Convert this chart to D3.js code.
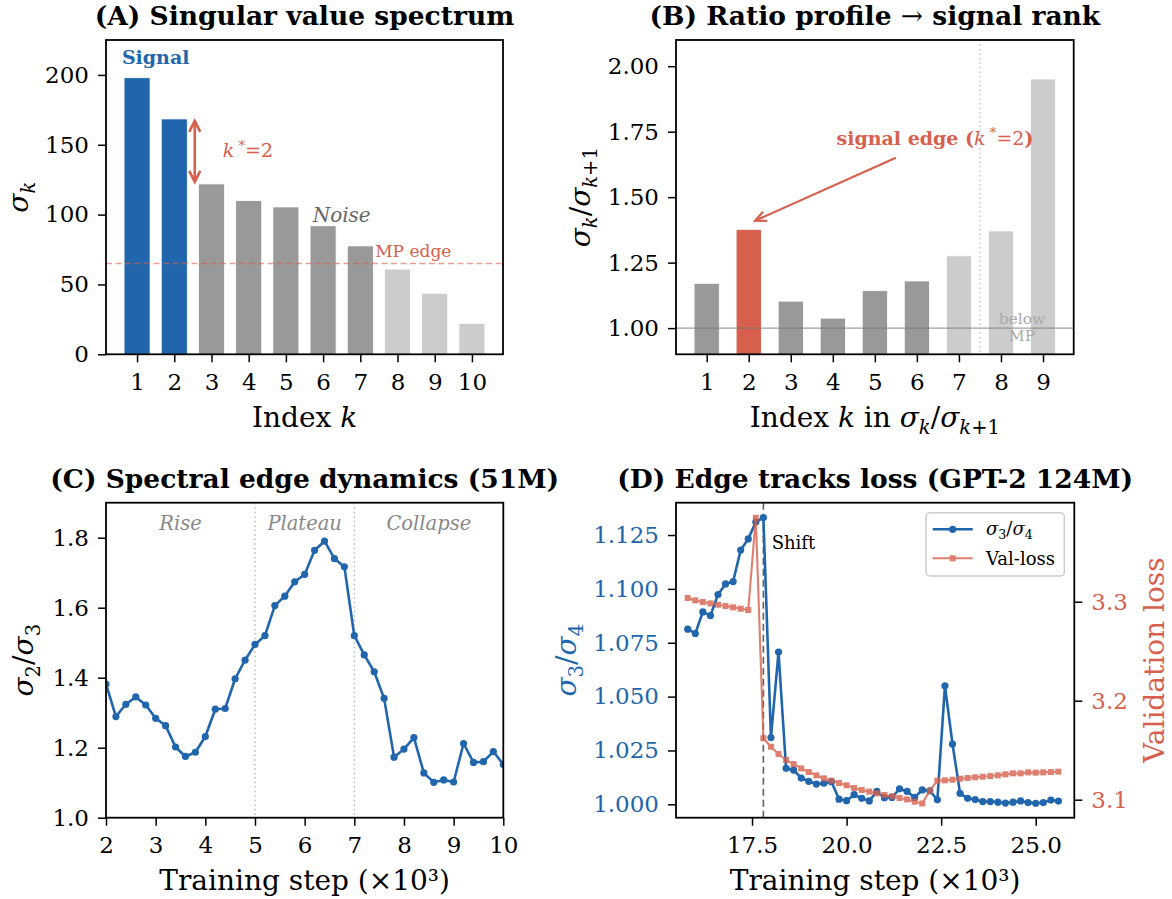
<!DOCTYPE html>
<html>
<head>
<meta charset="utf-8">
<script src="https://cdn.jsdelivr.net/npm/d3@7"></script>
<style>
body { margin: 0; background: #fff; }
text { font-family: "DejaVu Serif", serif; }
</style>
</head>
<body>
<div id="chart"></div>
<script>
// ---- data ----
var specK = [1, 2, 3, 4, 5, 6, 7, 8, 9, 10];
var specSigma = [198, 168.5, 122, 110, 105.5, 92, 77.6, 61, 43.7, 22.2];
var specGroup = ["signal", "signal", "noise", "noise", "noise", "noise", "noise", "below", "below", "below"];
var mpEdge = 65;

var ratioK = [1, 2, 3, 4, 5, 6, 7, 8, 9];
var ratioVal = [1.171, 1.377, 1.103, 1.038, 1.143, 1.180, 1.276, 1.371, 1.951];
var ratioGroup = ["noise", "edge", "noise", "noise", "noise", "noise", "below", "below", "below"];

var dynStep = [2.0, 2.2, 2.4, 2.6, 2.8, 3.0, 3.2, 3.4, 3.6, 3.8, 4.0, 4.2, 4.4, 4.6, 4.8,
    5.0, 5.2, 5.4, 5.6, 5.8, 6.0, 6.2, 6.4, 6.6, 6.8, 7.0, 7.2, 7.4, 7.6, 7.8, 8.0,
    8.2, 8.4, 8.6, 8.8, 9.0, 9.2, 9.4, 9.6, 9.8, 10.0];
var dynRatio = [1.382, 1.289, 1.324, 1.345, 1.322, 1.284, 1.263, 1.202, 1.175, 1.187, 1.232,
    1.310, 1.312, 1.397, 1.450, 1.495, 1.520, 1.606, 1.633, 1.674, 1.695, 1.764, 1.790,
    1.740, 1.717, 1.520, 1.465, 1.417, 1.341, 1.173, 1.196, 1.229, 1.128, 1.101, 1.108,
    1.102, 1.212, 1.158, 1.160, 1.189, 1.152];
var phaseEdges = [5, 7];
var phaseNames = ["Rise", "Plateau", "Collapse"];
var phaseAt = [3.5, 6.0, 8.5];

var gptStep = [15.8, 16.0, 16.2, 16.4, 16.6, 16.8, 17.0, 17.2, 17.4, 17.6, 17.8, 18.0, 18.2,
    18.4, 18.6, 18.8, 19.0, 19.2, 19.4, 19.6, 19.8, 20.0, 20.2, 20.4, 20.6, 20.8, 21.0,
    21.2, 21.4, 21.6, 21.8, 22.0, 22.2, 22.4, 22.6, 22.8, 23.0, 23.2, 23.4, 23.6, 23.8,
    24.0, 24.2, 24.4, 24.6, 24.8, 25.0, 25.2, 25.4, 25.6];
var gptRatio = [1.0813, 1.0793, 1.0893, 1.0876, 1.0974, 1.1023, 1.1034, 1.1180, 1.1232, 1.1310,
    1.1331, 1.0310, 1.0707, 1.0167, 1.0159, 1.0122, 1.0107, 1.0094, 1.0098, 1.0105,
    1.0024, 1.0017, 1.0045, 1.0028, 1.0016, 1.0060, 1.0031, 1.0032, 1.0072, 1.0060,
    1.0032, 1.0067, 1.0063, 1.0021, 1.0550, 1.0280, 1.0051, 1.0028, 1.0022, 1.0013,
    1.0013, 1.0010, 1.0006, 1.0010, 1.0016, 1.0008, 1.0005, 1.0008, 1.0020, 1.0015];
var gptLoss = [3.3037, 3.3013, 3.2997, 3.2983, 3.2970, 3.2956, 3.2943, 3.2929, 3.2916, 3.3848,
    3.1620, 3.1535, 3.1461, 3.1401, 3.1360, 3.1316, 3.1279, 3.1246, 3.1215, 3.1192,
    3.1168, 3.1145, 3.1118, 3.1098, 3.1081, 3.1064, 3.1047, 3.1034, 3.1017, 3.1003,
    3.0980, 3.0962, 3.1091, 3.1192, 3.1195, 3.1202, 3.1212, 3.1219, 3.1226, 3.1232,
    3.1239, 3.1246, 3.1256, 3.1266, 3.1266, 3.1276, 3.1273, 3.1276, 3.1279, 3.1283];
var shiftStep = 17.8;

// tick labels
var ticksA_y = [0, 50, 100, 150, 200];
var ticksB_y = [1.00, 1.25, 1.50, 1.75, 2.00];
var ticksC_x = [2, 3, 4, 5, 6, 7, 8, 9, 10];
var ticksC_y = [1.0, 1.2, 1.4, 1.6, 1.8];
var ticksD_x = [17.5, 20.0, 22.5, 25.0];
var ticksD_yL = [1.000, 1.025, 1.050, 1.075, 1.100, 1.125];
var ticksD_yR = [3.1, 3.2, 3.3];

var BLUE = "#2166ac", RED = "#d6604d", GRAY = "#999999", LIGHT = "#cccccc";
var TICK_FS = 23, LABEL_FS = 28, TITLE_FS = 26.5;

var svg = d3.select("#chart").append("svg")
    .attr("width", 1172).attr("height", 899)
    .style("background", "#fff");

// math-ish text: parts = [{t, it, sub, sup}]
function addMath(sel, parts, size) {
    var shift = 0;
    parts.forEach(function(p) {
        var target = p.sub ? 0.24 * size : (p.sup ? -0.4 * size : 0);
        sel.append("tspan")
            .text(p.t)
            .attr("dy", target - shift)
            .style("font-size", (p.sub || p.sup ? 0.7 * size : size) + "px")
            .style("font-style", p.it ? "italic" : "normal");
        shift = target;
    });
    return sel;
}

function styleAxis(g, color) {
    g.select(".domain").remove();
    g.selectAll(".tick line").attr("stroke", "#000").attr("stroke-width", 1.5);
    g.selectAll(".tick text")
        .attr("fill", color || "#000")
        .style("font-size", TICK_FS + "px")
        .style("font-family", "DejaVu Serif");
}

function frame(box) {
    svg.append("rect")
        .attr("x", box.l).attr("y", box.t)
        .attr("width", box.r - box.l).attr("height", box.b - box.t)
        .attr("fill", "none").attr("stroke", "#000").attr("stroke-width", 1.8);
}

function title(box, str, y) {
    return svg.append("text")
        .attr("x", (box.l + box.r) / 2).attr("y", y)
        .attr("text-anchor", "middle")
        .style("font-size", TITLE_FS + "px").style("font-weight", "bold")
        .text(str);
}

function xLabel(box, parts, y) {
    var t = svg.append("text")
        .attr("x", (box.l + box.r) / 2).attr("y", y)
        .attr("text-anchor", "middle")
        .style("font-size", LABEL_FS + "px");
    addMath(t, parts, LABEL_FS);
    return t;
}

function yLabel(x, cy, parts, color) {
    var t = svg.append("text")
        .attr("transform", "translate(" + x + "," + cy + ") rotate(-90)")
        .attr("text-anchor", "middle")
        .attr("fill", color || "#000")
        .style("font-size", LABEL_FS + "px");
    addMath(t, parts, LABEL_FS);
    return t;
}

function arrowHead(g, x1, y1, x2, y2, len, half, color, w) {
    // open chevron at (x2,y2) pointing away from (x1,y1)
    var a = Math.atan2(y2 - y1, x2 - x1);
    var bx = x2 - len * Math.cos(a), by = y2 - len * Math.sin(a);
    var px = -Math.sin(a) * half, py = Math.cos(a) * half;
    g.append("path")
        .attr("d", "M" + (bx + px) + "," + (by + py) + "L" + x2 + "," + y2 + "L" + (bx - px) + "," + (by - py))
        .attr("fill", "none").attr("stroke", color).attr("stroke-width", w)
        .attr("stroke-linejoin", "miter");
}

// ================= (A) =================
var boxA = {l: 106, r: 503, t: 40, b: 354.3};
var xA = d3.scaleLinear().domain([0.165, 10.835]).range([boxA.l, boxA.r]);
var yA = d3.scaleLinear().domain([0, 225]).range([boxA.b, boxA.t]);
var colA = {signal: BLUE, noise: GRAY, below: LIGHT};
var gA = svg.append("g");

gA.selectAll("rect.bar").data(specK).enter().append("rect")
    .attr("class", "bar")
    .attr("x", function(d) { return xA(d - 0.35); })
    .attr("width", xA(0.7) - xA(0))
    .attr("y", function(d, i) { return yA(specSigma[i]); })
    .attr("height", function(d, i) { return yA(0) - yA(specSigma[i]); })
    .attr("fill", function(d, i) { return colA[specGroup[i]]; })
    .attr("stroke", "#fff").attr("stroke-width", 0.8);

gA.append("line")
    .attr("x1", boxA.l).attr("x2", boxA.r)
    .attr("y1", yA(mpEdge)).attr("y2", yA(mpEdge))
    .attr("stroke", RED).attr("stroke-opacity", 0.6)
    .attr("stroke-width", 1.3).attr("stroke-dasharray", "6,3.5");

gA.append("text").attr("x", xA(7.4)).attr("y", yA(70))
    .attr("fill", RED).style("font-size", "17px").text("MP edge");

gA.append("text").attr("x", xA(1.5)).attr("y", yA(213))
    .attr("text-anchor", "middle").attr("dominant-baseline", "central")
    .attr("fill", BLUE).style("font-size", "19px").style("font-weight", "bold")
    .text("Signal");

gA.append("text").attr("x", xA(6.5)).attr("y", yA(100))
    .attr("text-anchor", "middle").attr("dominant-baseline", "central")
    .attr("fill", "#666").style("font-size", "20px").style("font-style", "italic")
    .text("Noise");

// double arrow between sigma_2 and sigma_3
(function() {
    var ax = xA(2.55), y1 = yA(specSigma[1]) + 2, y2 = yA(specSigma[2]) - 2;
    gA.append("line").attr("x1", ax).attr("x2", ax).attr("y1", y1 + 1).attr("y2", y2 - 1)
        .attr("stroke", RED).attr("stroke-width", 2.6);
    arrowHead(gA, ax, y2, ax, y1, 11, 5.5, RED, 2.6);
    arrowHead(gA, ax, y1, ax, y2, 11, 5.5, RED, 2.6);
})();

var kA = gA.append("text").attr("x", xA(3.3)).attr("y", yA(146) + 7)
    .attr("fill", RED).style("font-size", "19px");
addMath(kA, [{t: "k", it: true}, {t: " *", sup: true}, {t: "=2"}], 19);

gA.append("g").attr("transform", "translate(0," + boxA.b + ")")
    .call(d3.axisBottom(xA).tickValues(specK).tickSize(8).tickPadding(11).tickFormat(d3.format("d")))
    .call(styleAxis);
gA.append("g").attr("transform", "translate(" + boxA.l + ",0)")
    .call(d3.axisLeft(yA).tickValues(ticksA_y).tickSize(8).tickPadding(9).tickFormat(d3.format("d")))
    .call(styleAxis);
frame(boxA);
title(boxA, "(A) Singular value spectrum", 25);
xLabel(boxA, [{t: "Index "}, {t: "k", it: true}], 427);
yLabel(28, (boxA.t + boxA.b) / 2, [{t: "σ", it: true}, {t: "k", it: true, sub: true}]);

// ================= (B) =================
var boxB = {l: 676, r: 1073.7, t: 40, b: 354.3};
var xB = d3.scaleLinear().domain([0.27, 9.73]).range([boxB.l, boxB.r]);
var yB = d3.scaleLinear().domain([0.9, 2.1]).range([boxB.b, boxB.t]);
var colB = {edge: RED, noise: GRAY, below: LIGHT};
var gB = svg.append("g");

gB.selectAll("rect.bar").data(ratioK).enter().append("rect")
    .attr("class", "bar")
    .attr("x", function(d) { return xB(d - 0.3); })
    .attr("width", xB(0.6) - xB(0))
    .attr("y", function(d, i) { return yB(ratioVal[i]); })
    .attr("height", function(d, i) { return yB(0.9) - yB(ratioVal[i]); })
    .attr("fill", function(d, i) { return colB[ratioGroup[i]]; })
    .attr("stroke", "#fff").attr("stroke-width", 0.8);

gB.append("line")
    .attr("x1", boxB.l).attr("x2", boxB.r).attr("y1", yB(1)).attr("y2", yB(1))
    .attr("stroke", "#777").attr("stroke-opacity", 0.7).attr("stroke-width", 1.1);

gB.append("line")
    .attr("x1", xB(7.5)).attr("x2", xB(7.5)).attr("y1", boxB.t).attr("y2", boxB.b)
    .attr("stroke", "#bbb").attr("stroke-width", 1.2).attr("stroke-dasharray", "1.5,3");

var below = gB.append("text").attr("text-anchor", "middle")
    .attr("fill", "#aaa").style("font-size", "15.5px");
below.append("tspan").attr("x", xB(8.5)).attr("y", yB(1) - 4).text("below");
below.append("tspan").attr("x", xB(8.5)).attr("y", yB(1) + 13).text("MP");

var se = gB.append("text").attr("x", xB(6.43)).attr("y", yB(1.726) + 7)
    .attr("text-anchor", "middle").attr("fill", RED)
    .style("font-size", "19px").style("font-weight", "bold");
addMath(se, [{t: "signal edge ("}, {t: "k", it: true}, {t: " *", sup: true}, {t: "=2"}, {t: ")"}], 19);
se.selectAll("tspan").filter(function(d, i) { return i >= 1 && i <= 3; }).style("font-weight", "normal");

(function() {
    var x1 = xB(5.5), y1 = yB(1.65), x2 = xB(2.15), y2 = yB(1.41);
    gB.append("line").attr("x1", x1).attr("y1", y1).attr("x2", x2).attr("y2", y2)
        .attr("stroke", RED).attr("stroke-width", 2.2);
    arrowHead(gB, x1, y1, x2, y2, 11, 5, RED, 2.2);
})();

gB.append("g").attr("transform", "translate(0," + boxB.b + ")")
    .call(d3.axisBottom(xB).tickValues(ratioK).tickSize(8).tickPadding(11).tickFormat(d3.format("d")))
    .call(styleAxis);
gB.append("g").attr("transform", "translate(" + boxB.l + ",0)")
    .call(d3.axisLeft(yB).tickValues(ticksB_y).tickSize(8).tickPadding(9).tickFormat(d3.format(".2f")))
    .call(styleAxis);
frame(boxB);
var tB = title(boxB, "", 25);
tB.append("tspan").text("(B) Ratio profile ");
tB.append("tspan").style("font-weight", "normal").text("→");
tB.append("tspan").text(" signal rank");
xLabel(boxB, [{t: "Index "}, {t: "k", it: true}, {t: " in "}, {t: "σ", it: true}, {t: "k", it: true, sub: true},
    {t: "/"}, {t: "σ", it: true}, {t: "k", it: true, sub: true}, {t: "+1", sub: true}], 427);
yLabel(590, (boxB.t + boxB.b) / 2, [{t: "σ", it: true}, {t: "k", it: true, sub: true}, {t: "/"},
    {t: "σ", it: true}, {t: "k", it: true, sub: true}, {t: "+1", sub: true}]);

// ================= (C) =================
var boxC = {l: 106, r: 503.3, t: 502.7, b: 817.7};
var xC = d3.scaleLinear().domain([2, 10]).range([boxC.l, boxC.r]);
var yC = d3.scaleLinear().domain([1.0, 1.9]).range([boxC.b, boxC.t]);
var gC = svg.append("g");

svg.append("defs").append("clipPath").attr("id", "clipC").append("rect")
    .attr("x", boxC.l).attr("y", boxC.t).attr("width", boxC.r - boxC.l).attr("height", boxC.b - boxC.t);

gC.selectAll("line.phase").data(phaseEdges).enter().append("line")
    .attr("class", "phase")
    .attr("x1", function(d) { return xC(d); }).attr("x2", function(d) { return xC(d); })
    .attr("y1", boxC.t).attr("y2", boxC.b)
    .attr("stroke", "#aaa").attr("stroke-width", 1.2).attr("stroke-dasharray", "1.5,3");

gC.selectAll("text.phase").data(phaseNames).enter().append("text")
    .attr("class", "phase")
    .attr("x", function(d, i) { return xC(phaseAt[i]); }).attr("y", yC(1.84))
    .attr("text-anchor", "middle").attr("dominant-baseline", "central")
    .attr("fill", "#888").style("font-size", "19.5px").style("font-style", "italic")
    .text(function(d) { return d; });

var dynPts = dynStep.map(function(s, i) { return [s, dynRatio[i]]; });
var gCl = gC.append("g").attr("clip-path", "url(#clipC)");
gCl.append("path").datum(dynPts)
    .attr("d", d3.line().x(function(d) { return xC(d[0]); }).y(function(d) { return yC(d[1]); }))
    .attr("fill", "none").attr("stroke", BLUE).attr("stroke-width", 2.6).attr("stroke-linejoin", "round");
gCl.selectAll("circle").data(dynPts).enter().append("circle")
    .attr("cx", function(d) { return xC(d[0]); }).attr("cy", function(d) { return yC(d[1]); })
    .attr("r", 3.6).attr("fill", BLUE);

gC.append("g").attr("transform", "translate(0," + boxC.b + ")")
    .call(d3.axisBottom(xC).tickValues(ticksC_x).tickSize(8).tickPadding(11).tickFormat(d3.format("d")))
    .call(styleAxis);
gC.append("g").attr("transform", "translate(" + boxC.l + ",0)")
    .call(d3.axisLeft(yC).tickValues(ticksC_y).tickSize(8).tickPadding(9).tickFormat(d3.format(".1f")))
    .call(styleAxis);
frame(boxC);
title(boxC, "(C) Spectral edge dynamics (51M)", 488);
xLabel(boxC, [{t: "Training step (×10³)"}], 890);
yLabel(33, (boxC.t + boxC.b) / 2, [{t: "σ", it: true}, {t: "2", sub: true}, {t: "/"}, {t: "σ", it: true}, {t: "3", sub: true}]);

// ================= (D) =================
var boxD = {l: 676, r: 1074.3, t: 502.7, b: 817.7};
var xD = d3.scaleLinear().domain([15.49, 26.02]).range([boxD.l, boxD.r]);
var yDL = d3.scaleLinear().domain([0.9938, 1.1400]).range([boxD.b, boxD.t]);
var yDR = d3.scaleLinear().domain([3.0818, 3.4000]).range([boxD.b, boxD.t]);
var gD = svg.append("g");

var ratioPts = gptStep.map(function(s, i) { return [s, gptRatio[i]]; });
var lossPts = gptStep.map(function(s, i) { return [s, gptLoss[i]]; });

gD.append("line")
    .attr("x1", xD(shiftStep)).attr("x2", xD(shiftStep)).attr("y1", boxD.t).attr("y2", boxD.b)
    .attr("stroke", "#444").attr("stroke-opacity", 0.85).attr("stroke-width", 1.6).attr("stroke-dasharray", "7,4");

gD.append("path").datum(ratioPts)
    .attr("d", d3.line().x(function(d) { return xD(d[0]); }).y(function(d) { return yDL(d[1]); }))
    .attr("fill", "none").attr("stroke", BLUE).attr("stroke-width", 2.6).attr("stroke-linejoin", "round");
gD.selectAll("circle.r").data(ratioPts).enter().append("circle")
    .attr("class", "r")
    .attr("cx", function(d) { return xD(d[0]); }).attr("cy", function(d) { return yDL(d[1]); })
    .attr("r", 3.6).attr("fill", BLUE);

var gLoss = gD.append("g").attr("opacity", 0.8);
gLoss.append("path").datum(lossPts)
    .attr("d", d3.line().x(function(d) { return xD(d[0]); }).y(function(d) { return yDR(d[1]); }))
    .attr("fill", "none").attr("stroke", RED).attr("stroke-width", 2.1);
gLoss.selectAll("rect").data(lossPts).enter().append("rect")
    .attr("x", function(d) { return xD(d[0]) - 3; }).attr("y", function(d) { return yDR(d[1]) - 3; })
    .attr("width", 6).attr("height", 6).attr("fill", RED);

gD.append("text").attr("x", xD(18.02)).attr("y", yDL(1.1215))
    .attr("dominant-baseline", "central").style("font-size", "18px").text("Shift");

// legend
var lg = gD.append("g");
lg.append("rect").attr("x", 926).attr("y", 512.7).attr("width", 138.3).attr("height", 63.3)
    .attr("rx", 4).attr("fill", "#fff").attr("fill-opacity", 0.8)
    .attr("stroke", "#ccc").attr("stroke-width", 1.5);
lg.append("line").attr("x1", 932.7).attr("x2", 972.7).attr("y1", 529.3).attr("y2", 529.3)
    .attr("stroke", BLUE).attr("stroke-width", 2.6);
lg.append("circle").attr("cx", 952.7).attr("cy", 529.3).attr("r", 3.6).attr("fill", BLUE);
var lgR = lg.append("g").attr("opacity", 0.8);
lgR.append("line").attr("x1", 932.7).attr("x2", 972.7).attr("y1", 558.3).attr("y2", 558.3)
    .attr("stroke", RED).attr("stroke-width", 2.1);
lgR.append("rect").attr("x", 949.7).attr("y", 555.3).attr("width", 6).attr("height", 6).attr("fill", RED);
var lt1 = lg.append("text").attr("x", 986).attr("y", 535).style("font-size", "18px");
addMath(lt1, [{t: "σ", it: true}, {t: "3", sub: true}, {t: "/"}, {t: "σ", it: true}, {t: "4", sub: true}], 18);
lg.append("text").attr("x", 986).attr("y", 564.5).style("font-size", "18px").text("Val-loss");

gD.append("g").attr("transform", "translate(0," + boxD.b + ")")
    .call(d3.axisBottom(xD).tickValues(ticksD_x).tickSize(8).tickPadding(11).tickFormat(d3.format(".1f")))
    .call(styleAxis);
gD.append("g").attr("transform", "translate(" + boxD.l + ",0)")
    .call(d3.axisLeft(yDL).tickValues(ticksD_yL).tickSize(8).tickPadding(9).tickFormat(d3.format(".3f")))
    .call(function(g) { styleAxis(g, BLUE); });
gD.append("g").attr("transform", "translate(" + boxD.r + ",0)")
    .call(d3.axisRight(yDR).tickValues(ticksD_yR).tickSize(8).tickPadding(9).tickFormat(d3.format(".1f")))
    .call(function(g) { styleAxis(g, RED); });
frame(boxD);
title(boxD, "(D) Edge tracks loss (GPT-2 124M)", 488);
xLabel(boxD, [{t: "Training step (×10³)"}], 890);
yLabel(576, (boxD.t + boxD.b) / 2, [{t: "σ", it: true}, {t: "3", sub: true}, {t: "/"}, {t: "σ", it: true}, {t: "4", sub: true}], BLUE);
yLabel(1164, (boxD.t + boxD.b) / 2, [{t: "Validation loss"}], RED);
</script>
</body>
</html>
